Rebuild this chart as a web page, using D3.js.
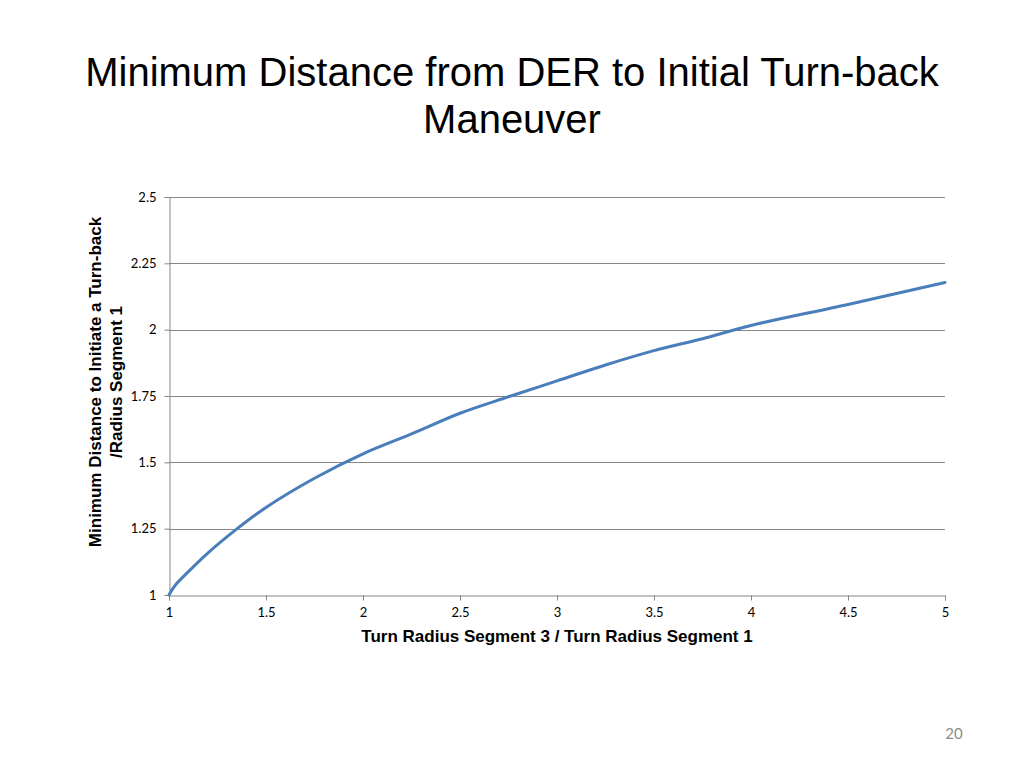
<!DOCTYPE html>
<html>
<head>
<meta charset="utf-8">
<script src="https://cdn.jsdelivr.net/npm/d3@7"></script>
<style>
  html, body { margin: 0; padding: 0; background: #fff; }
  svg { display: block; }
</style>
</head>
<body>
<script>
const titleLines = ["Minimum Distance from DER to Initial Turn-back", "Maneuver"];
const xTitle = "Turn Radius Segment 3 / Turn Radius Segment 1";
const yTitleLines = ["Minimum Distance to Initiate a Turn-back", "/Radius Segment 1"];
const pageNumber = "20";

const xValues = [1, 1.03, 1.1, 1.2, 1.35, 1.5, 1.75, 2, 2.25, 2.5, 2.75, 3, 3.25, 3.5, 3.75, 4, 4.5, 5];
const yValues = [1.0, 1.035, 1.088, 1.158, 1.249, 1.33, 1.44, 1.532, 1.607, 1.685, 1.747, 1.807, 1.867, 1.921, 1.966, 2.016, 2.095, 2.178];
const xTicks = [1, 1.5, 2, 2.5, 3, 3.5, 4, 4.5, 5];
const yTicks = [1, 1.25, 1.5, 1.75, 2, 2.25, 2.5];

const W = 1024, H = 768;
const plot = { left: 169, right: 945, top: 197, bottom: 595 };

const svg = d3.select("body").append("svg").attr("width", W).attr("height", H);

const x = d3.scaleLinear().domain([1, 5]).range([plot.left, plot.right]);
const y = d3.scaleLinear().domain([1, 2.5]).range([plot.bottom, plot.top]);

// Title
svg.append("g").selectAll("text").data(titleLines).join("text")
  .attr("x", 512).attr("y", (d, i) => 86 + i * 47)
  .attr("text-anchor", "middle")
  .attr("font-family", "'Liberation Sans', Arial, sans-serif")
  .attr("font-size", 40)
  .attr("fill", "#000")
  .text(d => d);

const gridColor = "#878787";
const tickFont = "Lato, 'Open Sans', sans-serif";

// Horizontal gridlines
svg.append("g").selectAll("line").data(yTicks.filter(t => t !== 1)).join("line")
  .attr("x1", plot.left).attr("x2", plot.right)
  .attr("y1", d => Math.round(y(d)) + 0.5).attr("y2", d => Math.round(y(d)) + 0.5)
  .attr("stroke", gridColor).attr("stroke-width", 1);

// Y axis
const yAxis = d3.axisLeft(y).tickValues(yTicks).tickSize(5).tickPadding(8)
  .tickFormat(d => String(d));
const gy = svg.append("g").attr("transform", `translate(${plot.left + 0.5},0)`).call(yAxis);
gy.select(".domain").attr("stroke", gridColor);
gy.selectAll(".tick line").attr("stroke", gridColor);
gy.selectAll(".tick text").attr("font-family", tickFont)
  .attr("font-size", 13).attr("fill", "#000");

// X axis
const xAxis = d3.axisBottom(x).tickValues(xTicks).tickSize(5).tickPadding(7)
  .tickFormat(d => String(d));
const gx = svg.append("g").attr("transform", `translate(0,${plot.bottom + 0.5})`).call(xAxis);
gx.select(".domain").attr("stroke", gridColor);
gx.selectAll(".tick line").attr("stroke", gridColor);
gx.selectAll(".tick text").attr("font-family", tickFont)
  .attr("font-size", 13).attr("fill", "#000");

// Line
const data = xValues.map((v, i) => [v, yValues[i]]);
svg.append("path").datum(data)
  .attr("fill", "none")
  .attr("stroke", "#4a7ebb")
  .attr("stroke-width", 3)
  .attr("stroke-linecap", "round")
  .attr("d", d3.line().x(d => x(d[0])).y(d => y(d[1])).curve(d3.curveCatmullRom.alpha(0.5)));

// X title
svg.append("text")
  .attr("x", 557).attr("y", 642)
  .attr("text-anchor", "middle")
  .attr("font-family", "'Liberation Sans', Arial, sans-serif")
  .attr("font-weight", "bold").attr("font-size", 17)
  .attr("fill", "#000")
  .text(xTitle);

// Y title (rotated, two lines)
const yt = svg.append("g").attr("transform", "translate(0,382) rotate(-90)");
yt.selectAll("text").data(yTitleLines).join("text")
  .attr("x", 0).attr("y", (d, i) => 101 + i * 21)
  .attr("text-anchor", "middle")
  .attr("font-family", "'Liberation Sans', Arial, sans-serif")
  .attr("font-weight", "bold").attr("font-size", 17)
  .attr("fill", "#000")
  .text(d => d);

// Page number
svg.append("text")
  .attr("x", 954).attr("y", 739)
  .attr("text-anchor", "middle")
  .attr("font-family", "Lato, 'Open Sans', sans-serif")
  .attr("font-size", 15)
  .attr("fill", "#8b8b8b")
  .text(pageNumber);
</script>
</body>
</html>
